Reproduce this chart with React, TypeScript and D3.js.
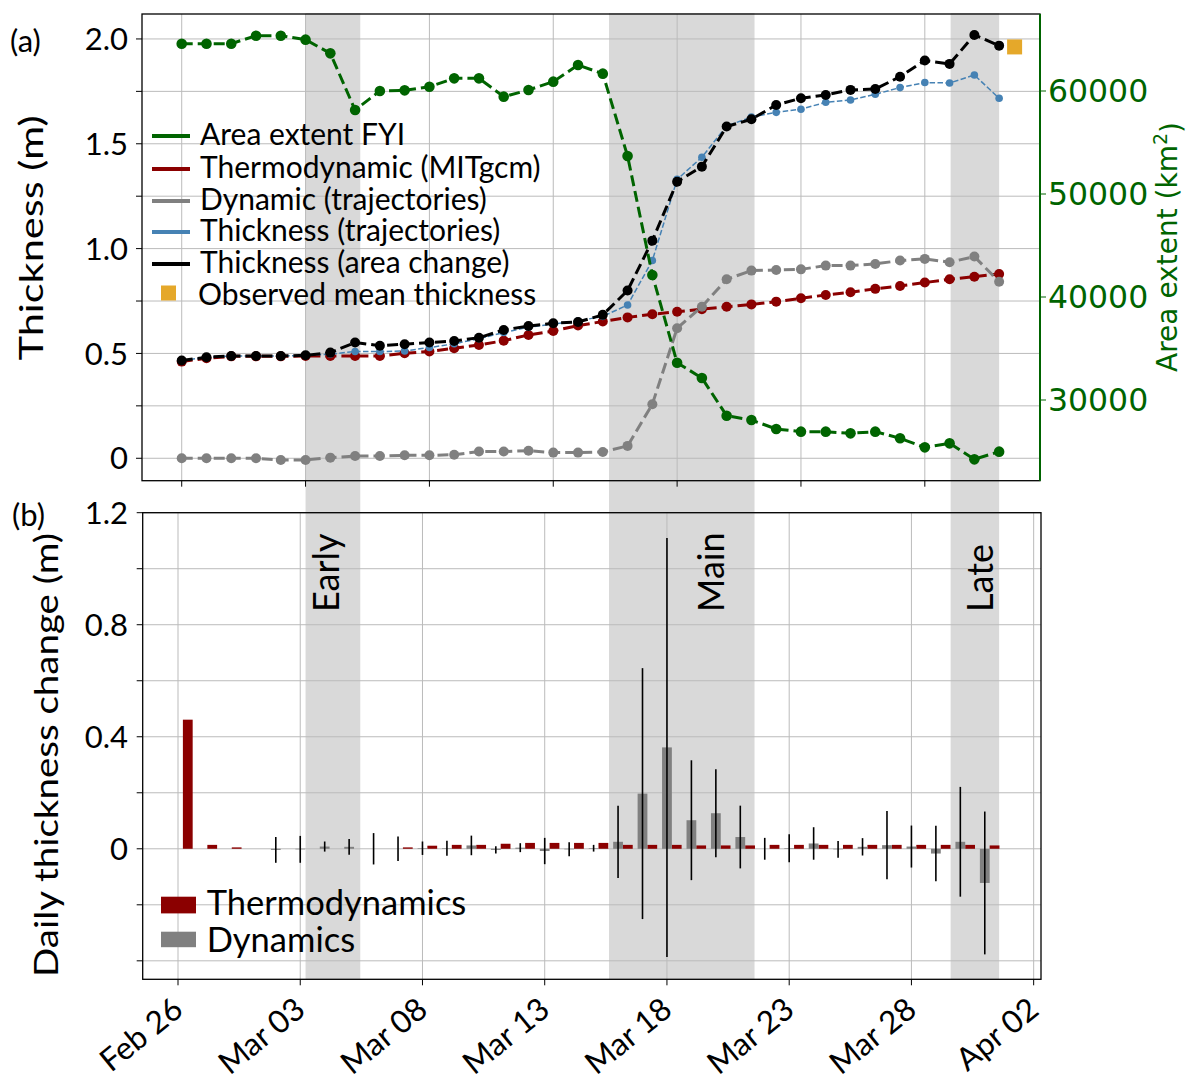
import React from 'react';
import * as d3 from 'd3';

// ---------- data ----------
const DAY = 86400000;
const START = new Date(Date.UTC(2019, 1, 26));
const END = new Date(Date.UTC(2019, 3, 1));
const days: Date[] = d3.utcDay.range(START, END); // Feb 26 .. Mar 31

const areaFYI = [64592, 64592, 64592, 65370, 65370, 64985, 63658, 58155, 60000, 60065, 60420, 61230, 61230, 59450, 60097, 60906, 62524, 61683, 53689, 42136, 33621, 32136, 28476, 28058, 27184, 26926, 26926, 26764, 26926, 26282, 25405, 25793, 24240, 24984];
const thermoMIT = [0.461, 0.477, 0.486, 0.486, 0.486, 0.488, 0.488, 0.488, 0.488, 0.501, 0.509, 0.525, 0.540, 0.561, 0.588, 0.607, 0.633, 0.652, 0.672, 0.687, 0.699, 0.711, 0.723, 0.734, 0.747, 0.763, 0.779, 0.792, 0.808, 0.822, 0.838, 0.854, 0.866, 0.879];
const dynTraj = [0, 0, 0, 0, -0.008, -0.008, 0.003, 0.011, 0.011, 0.014, 0.014, 0.017, 0.032, 0.032, 0.036, 0.027, 0.027, 0.030, 0.059, 0.258, 0.620, 0.723, 0.854, 0.895, 0.898, 0.901, 0.919, 0.919, 0.927, 0.943, 0.951, 0.935, 0.962, 0.842];
const thickTraj = [0.466, 0.482, 0.488, 0.488, 0.488, 0.491, 0.497, 0.509, 0.509, 0.512, 0.528, 0.546, 0.570, 0.600, 0.625, 0.640, 0.655, 0.677, 0.731, 0.943, 1.330, 1.436, 1.585, 1.627, 1.650, 1.665, 1.698, 1.709, 1.736, 1.768, 1.792, 1.790, 1.828, 1.717];
const thickArea = [0.466, 0.482, 0.488, 0.488, 0.488, 0.491, 0.504, 0.552, 0.537, 0.544, 0.552, 0.559, 0.575, 0.612, 0.631, 0.644, 0.650, 0.684, 0.800, 1.038, 1.319, 1.391, 1.582, 1.617, 1.685, 1.717, 1.733, 1.757, 1.761, 1.820, 1.897, 1.881, 2.019, 1.968];
const observedDate = new Date(Date.UTC(2019, 2, 31, 15));
const observedThickness = 1.962;

// daily changes (panel b)
const thermoDaily = [0.461, 0.014, 0.005, 0, 0, 0, 0, 0, 0, 0.005, 0.011, 0.014, 0.014, 0.018, 0.021, 0.021, 0.021, 0.021, 0.014, 0.014, 0.014, 0.012, 0.012, 0.012, 0.014, 0.014, 0.014, 0.014, 0.014, 0.014, 0.014, 0.014, 0.014, 0.012];
const dynDaily: (number | null)[] = [null, null, null, null, -0.004, -0.002, 0.008, 0.007, 0.0, 0.0, 0.002, 0.002, 0.012, -0.004, 0.004, -0.008, -0.002, 0.002, 0.025, 0.197, 0.362, 0.102, 0.127, 0.042, 0.0, 0.002, 0.019, -0.002, 0.007, 0.013, 0.008, -0.017, 0.025, -0.122];
const dynErr: (number | null)[] = [null, null, null, null, 0.046, 0.048, 0.018, 0.028, 0.056, 0.044, 0.024, 0.027, 0.035, 0.013, 0.016, 0.047, 0.025, 0.012, 0.129, 0.448, 0.748, 0.214, 0.157, 0.112, 0.039, 0.05, 0.058, 0.03, 0.031, 0.122, 0.075, 0.099, 0.196, 0.255];

const phases = [
  { name: 'Early', start: new Date(Date.UTC(2019, 2, 3, 0)), end: new Date(Date.UTC(2019, 2, 5, 5)) },
  { name: 'Main', start: new Date(Date.UTC(2019, 2, 15, 6)), end: new Date(Date.UTC(2019, 2, 21, 3)) },
  { name: 'Late', start: new Date(Date.UTC(2019, 2, 29, 1)), end: new Date(Date.UTC(2019, 2, 31, 0)) },
];

const tickDates = d3.utcDay.range(START, new Date(Date.UTC(2019, 3, 3)), 1).filter((d, i) => i % 5 === 0);
const fmt = d3.utcFormat('%b %d');

const topLeftTicks = [0, 0.25, 0.5, 0.75, 1.0, 1.25, 1.5, 1.75, 2.0];
const topLeftLabels = ['0', '', '0.5', '', '1.0', '', '1.5', '', '2.0'];
const areaTicks = [30000, 40000, 50000, 60000];
const botTicks = [-0.4, -0.2, 0, 0.2, 0.4, 0.6, 0.8, 1.0, 1.2];
const botLabels = ['', '', '0', '', '0.4', '', '0.8', '', '1.2'];

const legendTop = [
  { label: 'Area extent FYI', color: '#006400' },
  { label: 'Thermodynamic (MITgcm)', color: '#8b0000' },
  { label: 'Dynamic (trajectories)', color: '#808080' },
  { label: 'Thickness (trajectories)', color: '#4682b4' },
  { label: 'Thickness (area change)', color: '#000000' },
];

// ---------- layout ----------
const F = "Lato, 'Open Sans', sans-serif";
const FD = "'DejaVu Sans', sans-serif";
const T = { x0: 142, x1: 1040, y0: 14, y1: 480.7 };
const B = { x0: 142.7, x1: 1041, y0: 512.7, y1: 979.3 };
const GREEN = '#006400';
const RED = '#8b0000';
const GREY = '#808080';
const BLUE = '#4682b4';
const GRID = '#bbbbbb';
const SHADE = '#d9d9d9';

const xTop = d3.scaleUtc().domain([new Date(START.getTime() - 1.603 * DAY), new Date(START.getTime() + 34.65 * DAY)]).range([T.x0, T.x1]);
const yTop = d3.scaleLinear().domain([-0.107, 2.119]).range([T.y1, T.y0]);
const yArea = d3.scaleLinear().domain([22165, 67476]).range([T.y1, T.y0]);
const xBot = d3.scaleUtc().domain([new Date(START.getTime() - 1.444 * DAY), new Date(START.getTime() + 35.3 * DAY)]).range([B.x0, B.x1]);
const yBot = d3.scaleLinear().domain([-0.466, 1.2]).range([B.y1, B.y0]);

function Series({ values, color, lw, r, dash, scaleY }: any) {
  const line = d3.line<number>().x((_, i) => xTop(days[i])).y((v) => scaleY(v));
  return (
    <g>
      <path d={line(values) || ''} fill="none" stroke={color} strokeWidth={lw} strokeDasharray={dash} />
      {values.map((v: number, i: number) => (
        <circle key={i} cx={xTop(days[i])} cy={scaleY(v)} r={r} fill={color} />
      ))}
    </g>
  );
}

export default function App() {
  const barW = xBot(new Date(START.getTime() + 0.4 * DAY)) - xBot(START);
  const offs = 0.4 * DAY;
  return (
    <svg width={1189} height={1074} style={{ position: 'absolute', left: 0, top: 0, background: '#fff' }}>
      {/* shading spanning both panels */}
      {phases.map((p) => (
        <rect key={p.name} x={xTop(p.start)} y={13} width={xTop(p.end) - xTop(p.start)} height={980 - 13} fill={SHADE} />
      ))}

      {/* ---------- panel (a) ---------- */}
      <g>
        {tickDates.filter((d) => xTop(d) <= T.x1).map((d, i) => (
          <line key={'gv' + i} x1={xTop(d)} x2={xTop(d)} y1={T.y0} y2={T.y1} stroke={GRID} strokeWidth={1} />
        ))}
        {topLeftTicks.map((t, i) => (
          <line key={'gh' + i} x1={T.x0} x2={T.x1} y1={yTop(t)} y2={yTop(t)} stroke={GRID} strokeWidth={1} />
        ))}
        <Series values={thermoMIT} color={RED} lw={3} r={5} dash="11,5" scaleY={yTop} />
        <Series values={dynTraj} color={GREY} lw={3} r={5} dash="11,5" scaleY={yTop} />
        <Series values={thickTraj} color={BLUE} lw={1.5} r={3.8} dash="5.5,2.4" scaleY={yTop} />
        <Series values={thickArea} color="#000" lw={3} r={5} dash="11,5" scaleY={yTop} />
        <rect x={xTop(observedDate) - 7.5} y={yTop(observedThickness) - 7.5} width={15} height={15} fill="#e5a82a" />
        <Series values={areaFYI} color={GREEN} lw={3} r={5.3} dash="11,5" scaleY={yArea} />

        {/* spines */}
        <rect x={T.x0} y={T.y0} width={T.x1 - T.x0} height={T.y1 - T.y0} fill="none" stroke="#000" strokeWidth={1.3} />
        <line x1={T.x1} x2={T.x1} y1={T.y0} y2={T.y1} stroke={GREEN} strokeWidth={2} />
        {/* left ticks */}
        {topLeftTicks.map((t, i) => (
          <g key={'lt' + i}>
            <line x1={T.x0 - 6} x2={T.x0} y1={yTop(t)} y2={yTop(t)} stroke="#000" strokeWidth={1} />
            {topLeftLabels[i] && (
              <text x={128} y={yTop(t)} dy="0.36em" textAnchor="end" fontFamily={F} fontSize={31}>{topLeftLabels[i]}</text>
            )}
          </g>
        ))}
        {/* right ticks */}
        {areaTicks.map((t) => (
          <g key={'rt' + t}>
            <line x1={T.x1} x2={T.x1 + 6} y1={yArea(t)} y2={yArea(t)} stroke={GREEN} strokeWidth={1} />
            <text x={1048} y={yArea(t)} dy="0.36em" fontFamily={FD} fontSize={31.5} fill={GREEN}>{t}</text>
          </g>
        ))}
        {/* bottom ticks */}
        {tickDates.filter((d) => xTop(d) <= T.x1).map((d, i) => (
          <line key={'bt' + i} x1={xTop(d)} x2={xTop(d)} y1={T.y1} y2={T.y1 + 6} stroke="#000" strokeWidth={1} />
        ))}
        <text transform="translate(31,238) rotate(-90)" textAnchor="middle" dy="0.35em" fontFamily={F} fontSize={33} textLength={245} lengthAdjust="spacingAndGlyphs">Thickness (m)</text>
        <text transform="translate(1167,247) rotate(-90)" textAnchor="middle" dy="0.35em" fontFamily={FD} fontSize={28} fill={GREEN}>
          Area extent (km<tspan dy="-0.5em" fontSize={19}>2</tspan><tspan dy="0.5em">)</tspan>
        </text>
        <text x={10} y={52} fontFamily={F} fontSize={31}>(a)</text>

        {/* legend */}
        {legendTop.map((l, i) => {
          const base = [145, 178, 210, 241, 273][i];
          return (
            <g key={l.label}>
              <line x1={152} x2={190} y1={base - 9} y2={base - 9} stroke={l.color} strokeWidth={4} />
              <text x={200} y={base} fontFamily={F} fontSize={30}>{l.label}</text>
            </g>
          );
        })}
        <rect x={161} y={285.5} width={15} height={15} fill="#e5a82a" />
        <text x={198} y={305} fontFamily={F} fontSize={30}>Observed mean thickness</text>
      </g>

      {/* ---------- panel (b) ---------- */}
      <g>
        {tickDates.map((d, i) => (
          <line key={'bgv' + i} x1={xBot(d)} x2={xBot(d)} y1={B.y0} y2={B.y1} stroke={GRID} strokeWidth={1} />
        ))}
        {botTicks.map((t, i) => (
          <line key={'bgh' + i} x1={B.x0} x2={B.x1} y1={yBot(t)} y2={yBot(t)} stroke={GRID} strokeWidth={1} />
        ))}
        {thermoDaily.map((v, i) => {
          const cx = xBot(new Date(days[i].getTime() + offs));
          return <rect key={'tb' + i} x={cx - barW / 2} y={Math.min(yBot(v), yBot(0))} width={barW} height={Math.abs(yBot(v) - yBot(0))} fill={RED} />;
        })}
        {dynDaily.map((v, i) => {
          if (v === null) return null;
          const cx = xBot(days[i]);
          return <rect key={'db' + i} x={cx - barW / 2} y={Math.min(yBot(v), yBot(0))} width={barW} height={Math.abs(yBot(v) - yBot(0))} fill={GREY} />;
        })}
        {dynDaily.map((v, i) => {
          const e = dynErr[i];
          if (v === null || e === null) return null;
          const cx = xBot(days[i]);
          return <line key={'eb' + i} x1={cx} x2={cx} y1={yBot(v - e)} y2={yBot(v + e)} stroke="#000" strokeWidth={1.6} />;
        })}
        {phases.map((p) => (
          <text key={'pl' + p.name} transform={`translate(${xTop(p.end) - (p.name === 'Main' ? 31 : p.name === 'Late' ? 6.5 : 21.5)},612) rotate(-90)`} fontFamily={F} fontSize={36}>{p.name}</text>
        ))}
        <rect x={B.x0} y={B.y0} width={B.x1 - B.x0} height={B.y1 - B.y0} fill="none" stroke="#000" strokeWidth={1.3} />
        {botTicks.map((t, i) => (
          <g key={'blt' + i}>
            <line x1={B.x0 - 6} x2={B.x0} y1={yBot(t)} y2={yBot(t)} stroke="#000" strokeWidth={1} />
            {botLabels[i] && (
              <text x={128} y={yBot(t)} dy="0.36em" textAnchor="end" fontFamily={F} fontSize={31}>{botLabels[i]}</text>
            )}
          </g>
        ))}
        {tickDates.map((d, i) => (
          <g key={'xt' + i}>
            <line x1={xBot(d)} x2={xBot(d)} y1={B.y1} y2={B.y1 + 6} stroke="#000" strokeWidth={1} />
            <text transform={`translate(${xBot(d) + 7},1013) rotate(-39)`} textAnchor="end" fontFamily={F} fontSize={31.5}>{fmt(d)}</text>
          </g>
        ))}
        <text transform="translate(46,755) rotate(-90)" textAnchor="middle" dy="0.35em" fontFamily={F} fontSize={33} textLength={444} lengthAdjust="spacingAndGlyphs">Daily thickness change (m)</text>
        <text x={12} y={526} fontFamily={F} fontSize={31}>(b)</text>
        {/* legend */}
        <rect x={161} y={896.7} width={35} height={16.7} fill={RED} />
        <text x={206.7} y={915} fontFamily={F} fontSize={34.5}>Thermodynamics</text>
        <rect x={161} y={931.7} width={35} height={15.5} fill={GREY} />
        <text x={206.7} y={951.7} fontFamily={F} fontSize={34.5}>Dynamics</text>
      </g>
    </svg>
  );
}
